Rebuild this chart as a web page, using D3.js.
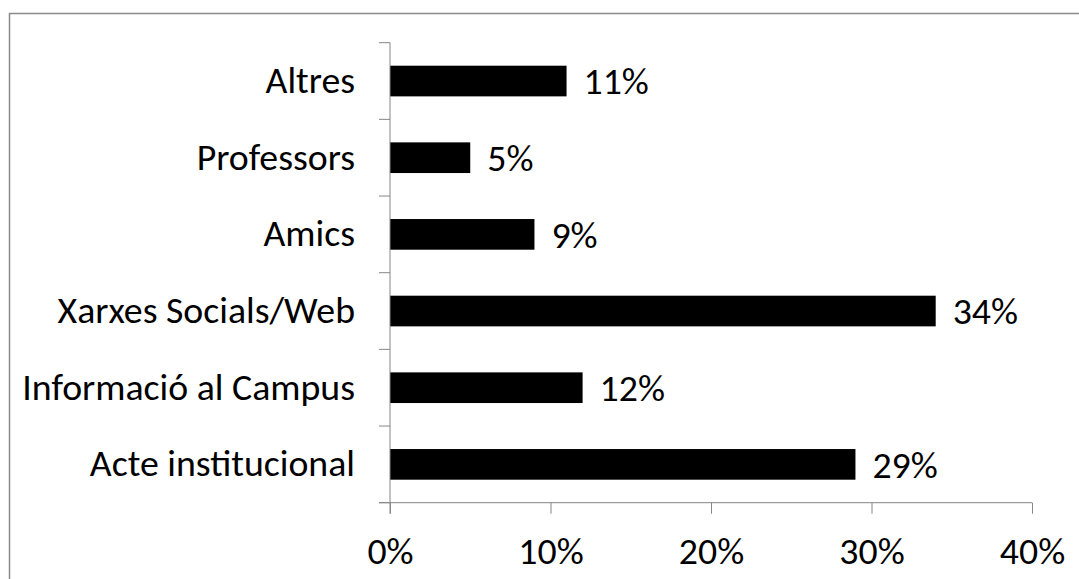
<!DOCTYPE html>
<html>
<head>
<meta charset="utf-8">
<script src="https://cdn.jsdelivr.net/npm/d3@7"></script>
<style>
  body { margin: 0; background: #fff; }
  svg { display: block; }
  text { font-family: Calibri, Carlito, "Open Sans", sans-serif; fill: #000; }
</style>
</head>
<body>
<div class="bar-chart"></div>
<script>
const categories = ["Altres", "Professors", "Amics", "Xarxes Socials/Web", "Informació al Campus", "Acte institucional"];
const values = [11, 5, 9, 34, 12, 29];
const xTicks = [0, 10, 20, 30, 40];

const width = 1079, height = 579;
const fontSize = 37.8;
const axisColor = "#868686";

const data = categories.map((c, i) => ({cat: c, value: values[i]}));

const svg = d3.select(".bar-chart")
    .append("svg")
    .attr("width", width)
    .attr("height", height);

// chart frame (runs past the right and bottom edges)
svg.append("rect")
    .attr("x", 9.5)
    .attr("y", 13.5)
    .attr("width", 1200)
    .attr("height", 700)
    .attr("fill", "none")
    .attr("stroke", "#8a8a8a")
    .attr("stroke-width", 1.5);

const xScale = d3.scaleLinear()
    .domain([0, 40])
    .range([390, 1032]);

const yScale = d3.scaleBand()
    .domain(categories)
    .range([42.7, 502.7])
    .paddingInner(0.6)
    .paddingOuter(0.3);

const x0 = xScale(0);
const yBottom = yScale.range()[1];

// bars
svg.selectAll(".bar")
    .data(data)
    .join("rect")
    .attr("class", "bar")
    .attr("x", x0)
    .attr("y", d => yScale(d.cat))
    .attr("width", d => xScale(d.value) - x0)
    .attr("height", yScale.bandwidth())
    .attr("fill", "#000");

// x axis
const xAxis = d3.axisBottom(xScale)
    .tickValues(xTicks)
    .tickSize(11)
    .tickPadding(23)
    .tickFormat(d => d + "%");

svg.append("g")
    .attr("class", "axis x-axis")
    .attr("transform", `translate(0, ${yBottom})`)
    .call(xAxis)
    .call(g => g.select(".domain").remove())
    .call(g => g.selectAll(".tick line").attr("stroke", axisColor))
    .call(g => g.selectAll(".tick text")
        .attr("font-size", fontSize)
        .attr("font-family", null));

svg.append("line")
    .attr("x1", x0 - 11)
    .attr("x2", xScale(40))
    .attr("y1", yBottom)
    .attr("y2", yBottom)
    .attr("stroke", axisColor);

// y axis: labels, line and ticks between the categories
const yAxis = d3.axisLeft(yScale)
    .tickSize(0)
    .tickPadding(35);

svg.append("g")
    .attr("class", "axis y-axis")
    .attr("transform", `translate(${x0}, 0)`)
    .call(yAxis)
    .call(g => g.select(".domain").remove())
    .call(g => g.selectAll(".tick text")
        .attr("font-size", fontSize)
        .attr("font-family", null));

svg.append("line")
    .attr("x1", x0)
    .attr("x2", x0)
    .attr("y1", yScale.range()[0])
    .attr("y2", yBottom + 11)
    .attr("stroke", axisColor);

const bounds = d3.range(categories.length + 1)
    .map(i => yScale.range()[0] + i * yScale.step());

svg.selectAll(".ytick")
    .data(bounds)
    .join("line")
    .attr("class", "ytick")
    .attr("x1", x0 - 11)
    .attr("x2", x0)
    .attr("y1", d => d)
    .attr("y2", d => d)
    .attr("stroke", axisColor);

// value labels
svg.selectAll(".label")
    .data(data)
    .join("text")
    .attr("class", "label")
    .attr("x", d => xScale(d.value) + 17)
    .attr("y", d => yScale(d.cat) + yScale.bandwidth() / 2)
    .attr("dy", "0.35em")
    .attr("font-size", fontSize)
    .text(d => d.value + "%");
</script>
</body>
</html>
